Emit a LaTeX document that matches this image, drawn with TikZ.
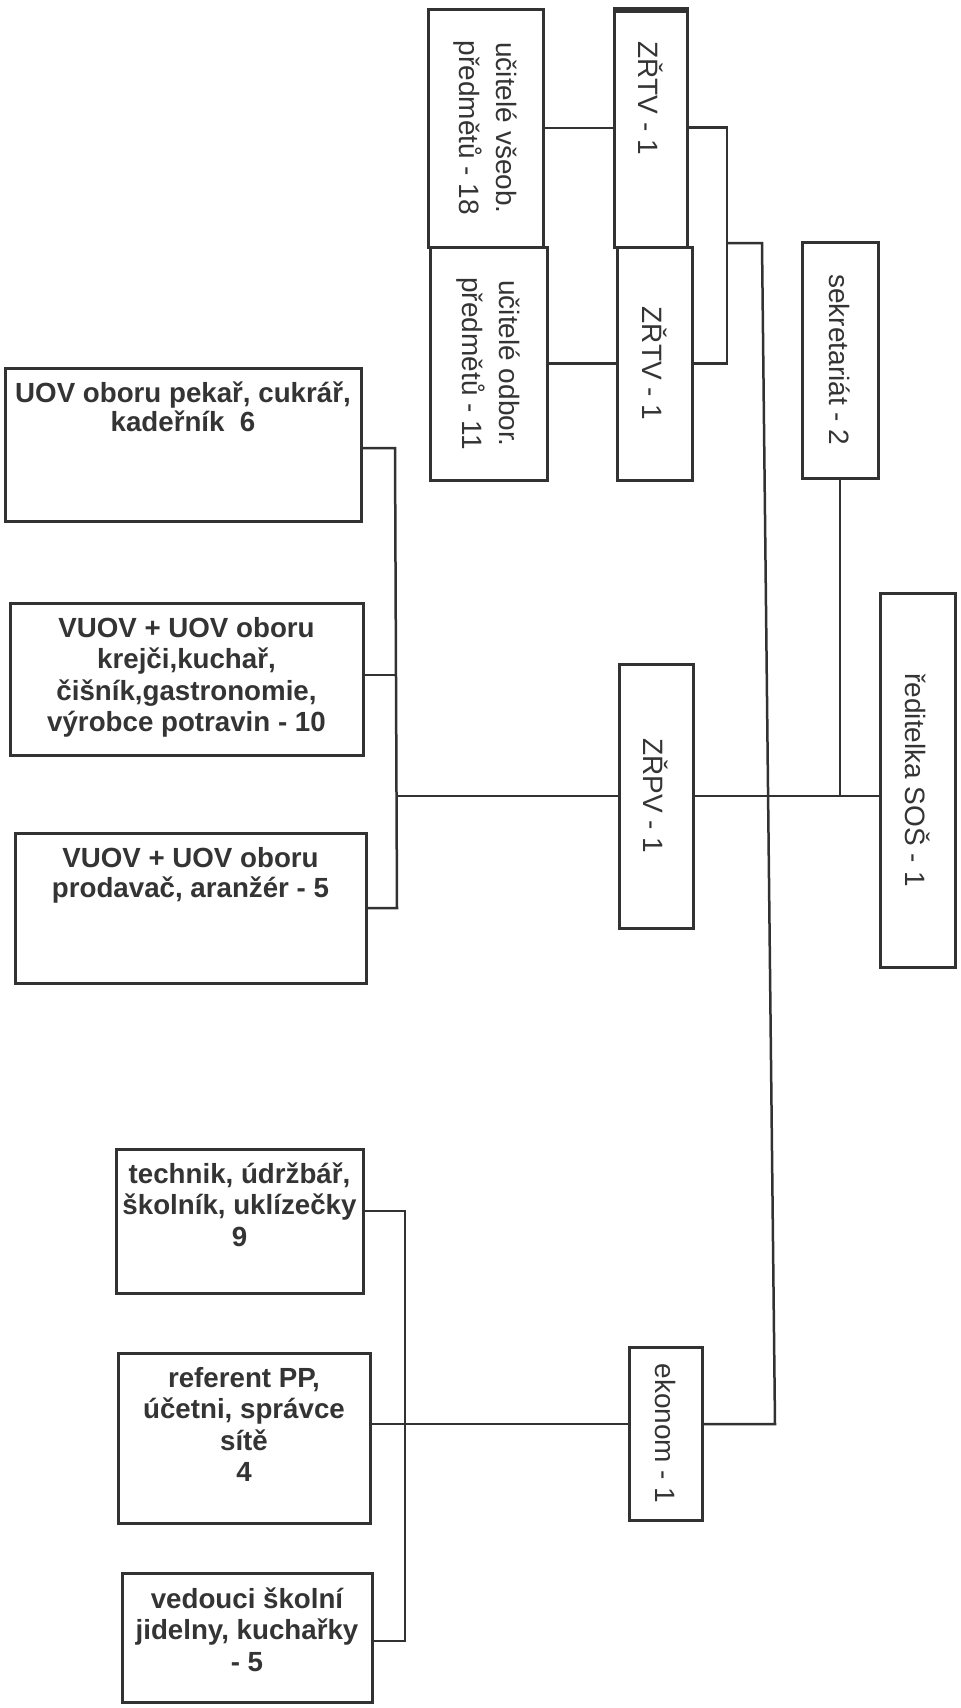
\documentclass[tikz,border=0pt]{standalone}
\usepackage{fontspec}
\setmainfont{Liberation Sans}
\usetikzlibrary{calc}
\definecolor{linecol}{RGB}{50,50,50}
\definecolor{textcol}{RGB}{52,52,52}
\tikzset{
  box/.style={draw=linecol, line width=3pt, inner sep=0pt, outer sep=0pt},
  conn/.style={draw=linecol, line width=2.5pt},
  vtext/.style={rotate=-90, text=textcol, inner sep=0pt, align=center,
    font=\fontsize{28}{37}\selectfont},
  ltext/.style={anchor=north, text=textcol, inner sep=0pt, align=center,
    font=\bfseries\fontsize{27.7}{31.5}\selectfont},
}
\begin{document}
\begin{tikzpicture}[x=1pt,y=-1pt]
\useasboundingbox (0,0) rectangle (961,1708);
\fill[white] (0,0) rectangle (961,1708);

% ---- right / upper group (rotated labels)
\node[box, minimum width=115pt, minimum height=238pt] (A1) at (485.5,128) {};
\node[box, minimum width=117pt, minimum height=233pt] (A2) at (488.5,363.5) {};
\node[box, minimum width=73pt, minimum height=239pt] (Z1) at (650.5,127.5) {};
\node[box, minimum width=75pt, minimum height=233pt] (Z2) at (654.5,363.5) {};
\node[box, minimum width=76pt, minimum height=236pt] (SEK) at (840,360) {};
\node[box, minimum width=75pt, minimum height=374pt] (RED) at (917.5,780) {};
\node[box, minimum width=74pt, minimum height=264pt] (ZRPV) at (656,796) {};
\node[box, minimum width=73pt, minimum height=173pt] (EKO) at (665.5,1433.5) {};
\draw[linecol, line width=3pt] ([yshift=-3pt]Z1.north west) -- ([yshift=-3pt]Z1.north east);

\node[vtext] (A1t) at (A1) {učitelé všeob.\\předmětů - 18};
\node[vtext] (A2t) at (A2) {učitelé odbor.\\předmětů - 11};
\node[vtext] (Z1t) at (650.5,98) {ZŘTV - 1};
\node[vtext] (Z2t) at (Z2) {ZŘTV - 1};
\node[vtext] (SEKt) at (SEK) {sekretariát - 2};
\node[vtext] (REDt) at (RED) {ředitelka SOŠ - 1};
\node[vtext] (ZRPVt) at (ZRPV) {ZŘPV - 1};
\node[vtext] (EKOt) at (EKO) {ekonom - 1};

% ---- left boxes
\node[box, minimum width=356pt, minimum height=153pt] (UOV) at (183,444.5) {};
\node[box, minimum width=353pt, minimum height=152pt] (VU1) at (186.5,679) {};
\node[box, minimum width=351pt, minimum height=150pt] (VU2) at (190.5,908) {};
\node[box, minimum width=247pt, minimum height=144pt] (TECH) at (239.5,1221) {};
\node[box, minimum width=252pt, minimum height=170pt] (REF) at (244,1438) {};
\node[box, minimum width=250pt, minimum height=129pt] (VED) at (247,1637.5) {};

\node[ltext, font=\bfseries\fontsize{27.7}{29}\selectfont] (UOVt) at ([yshift=-8pt]UOV.north)
  {\rule{0pt}{26pt}UOV oboru pekař, cukrář,\\kadeřník\ \ 6};
\node[ltext] (VU1t) at ([yshift=-8pt]VU1.north)
  {\rule{0pt}{26pt}VUOV + UOV oboru\\krejči,kuchař,\\čišník,gastronomie,\\výrobce potravin - 10};
\node[ltext, font=\bfseries\fontsize{27.7}{30}\selectfont] (VU2t) at ([yshift=-8pt]VU2.north)
  {\rule{0pt}{26pt}VUOV + UOV oboru\\prodavač, aranžér - 5};
\node[ltext] (TECHt) at ([yshift=-8pt]TECH.north)
  {\rule{0pt}{26pt}technik, údržbář,\\školník, uklízečky\\9};
\node[ltext] (REFt) at ([yshift=-8pt]REF.north)
  {\rule{0pt}{26pt}referent PP,\\účetni, správce\\sítě\\4};
\node[ltext] (VEDt) at ([yshift=-9pt]VED.north)
  {\rule{0pt}{26pt}vedouci školní\\jidelny, kuchařky\\- 5};

% ---- junction coordinates
\coordinate (br) at (727,243);
\coordinate (tl) at (762,243);
\coordinate (bl) at (775,1424);
\coordinate (u1) at (395,448);
\coordinate (u2) at (396,675);
\coordinate (u3) at (397,908);
\coordinate (u0) at (396,796);
\coordinate (e1) at (405,1211);
\coordinate (e2) at (405,1424);
\coordinate (e3) at (405,1641);

% ---- connectors
\draw[conn] (A1.east) -- (A1.east -| Z1.west);
\draw[conn] (A2.east) -- (A2.east -| Z2.west);
\draw[conn] (Z1.east) -- (Z1.east -| br) -- (Z2.east -| br) -- (Z2.east);
\draw[conn] (br) -- (tl) -- (bl) -- (EKO.east |- bl);
\draw[conn] (ZRPV.east) -- (RED.west |- ZRPV.east);
\draw[conn] (SEK.south) -- (SEK.south |- ZRPV.east);
\draw[conn] (ZRPV.west) -- (u0);
\draw[conn] (UOV.east |- u1) -- (u1) -- (u3) -- (VU2.east |- u3);
\draw[conn] (VU1.east |- u2) -- (u2);
\draw[conn] (TECH.east |- e1) -- (e1) -- (e3) -- (VED.east |- e3);
\draw[conn] (REF.east |- e2) -- (EKO.west |- e2);
\end{tikzpicture}
\end{document}
